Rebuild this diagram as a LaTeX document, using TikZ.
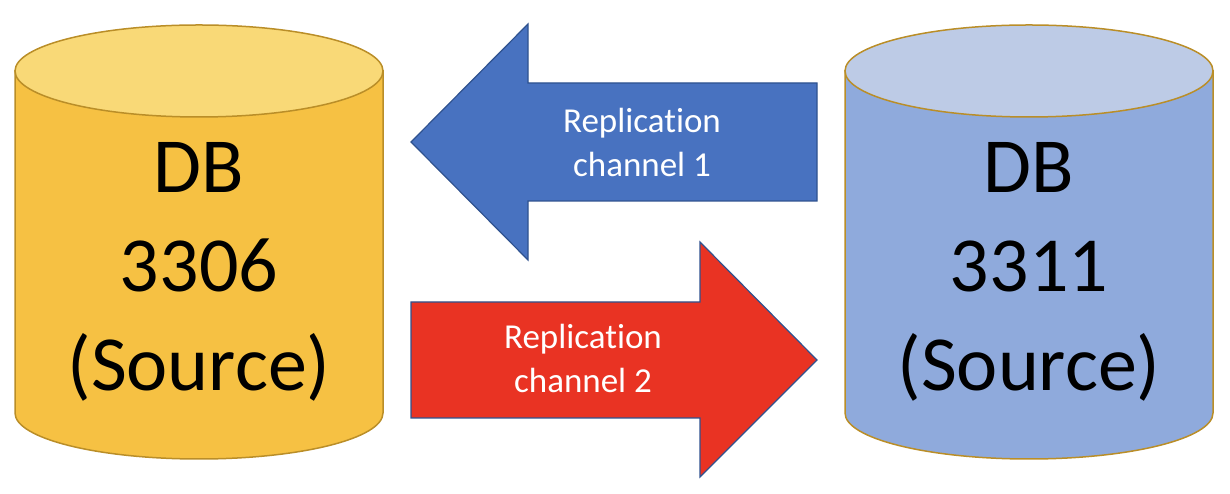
\documentclass[tikz,border=0pt]{standalone}
\usepackage{fontspec}
\setmainfont{Carlito}[Ligatures=NoCommon]

\definecolor{dbline}{RGB}{186,142,40}
\definecolor{goldside}{RGB}{246,193,67}
\definecolor{goldtop}{RGB}{249,217,119}
\definecolor{blueside}{RGB}{143,170,220}
\definecolor{bluetop}{RGB}{189,203,230}
\definecolor{chanblue}{RGB}{72,114,192}
\definecolor{chanred}{RGB}{233,51,35}
\definecolor{arrowline}{RGB}{47,82,143}

\begin{document}
\begin{tikzpicture}[
    x=1pt, y=1pt,
    dbshape/.style={draw=dbline, line width=1.5pt},
    dblabel/.style={align=center, inner sep=0pt, font=\fontsize{78}{99}\selectfont},
    blockarrow/.style={draw=arrowline, line width=1.2pt},
    chanlabel/.style={align=center, inner sep=0pt, text=white, font=\fontsize{35}{44}\selectfont}
  ]
    \useasboundingbox (0,0) rectangle (1230,494);

    % left database
    \draw[dbshape, fill=goldside] (15,423) -- (15,81)
        arc[start angle=180, end angle=360, x radius=184, y radius=46] -- (383,423) -- cycle;
    \draw[dbshape, fill=goldtop] (199,423) ellipse [x radius=184, y radius=46];
    \node[dblabel] (db3306) at (199,222) {DB\\3306\\(Source)};

    % right database
    \draw[dbshape, fill=blueside] (845,423) -- (845,81)
        arc[start angle=180, end angle=360, x radius=184, y radius=46] -- (1213,423) -- cycle;
    \draw[dbshape, fill=bluetop] (1029,423) ellipse [x radius=184, y radius=46];
    \node[dblabel] (db3311) at (1029,222) {DB\\3311\\(Source)};

    % replication channels
    \draw[blockarrow, fill=chanblue] (411,352) -- (528,470) -- (528,411) -- (817,411)
        -- (817,293) -- (528,293) -- (528,234) -- cycle;
    \node[chanlabel] (chan1) at (642,352) {Replication\\channel 1};

    \draw[blockarrow, fill=chanred] (411,192) -- (700,192) -- (700,252) -- (817,134)
        -- (700,17) -- (700,76) -- (411,76) -- cycle;
    \node[chanlabel] (chan2) at (583,136) {Replication\\channel 2};
\end{tikzpicture}
\end{document}
